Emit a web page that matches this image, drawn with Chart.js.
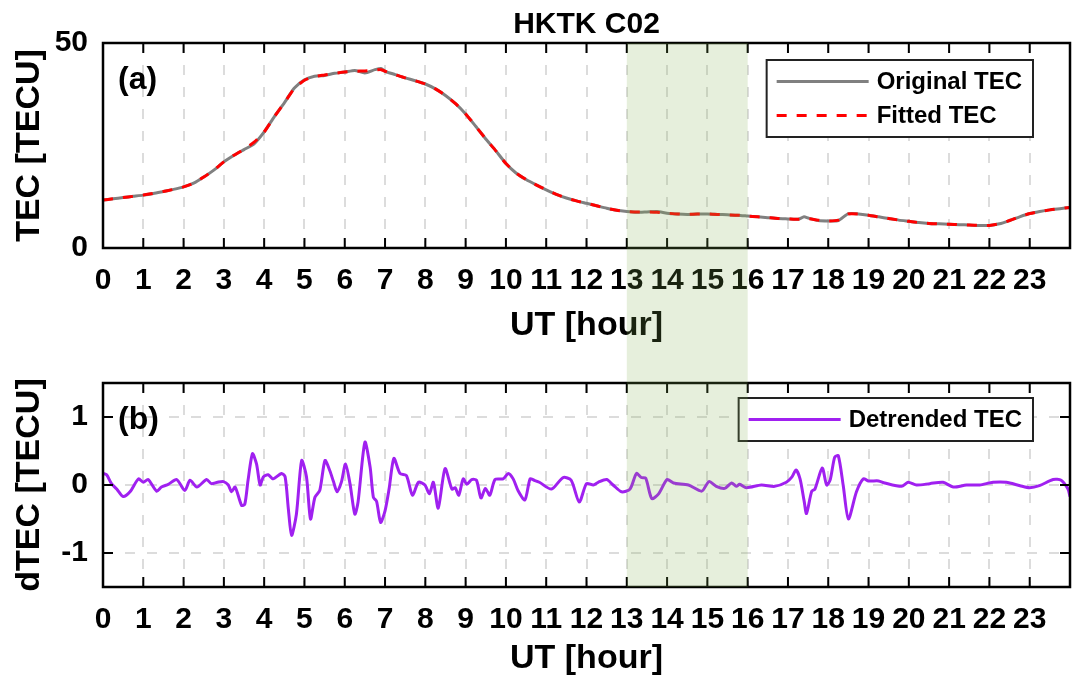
<!DOCTYPE html>
<html lang="en">
<head>
<meta charset="UTF-8">
<title>HKTK C02 TEC</title>
<script src="https://cdn.jsdelivr.net/npm/chart.js"></script>
<style>
  body { margin: 0; background: #fff; }
  canvas { display: block; }
</style>
</head>
<body>
<canvas id="tecChart" width="1078" height="348"></canvas>
<canvas id="dtecChart" width="1078" height="333"></canvas>
<script>
// ---- data ----
const hourTicks = [0,1,2,3,4,5,6,7,8,9,10,11,12,13,14,15,16,17,18,19,20,21,22,23,24];
const tecTicks = [0, 50];
const dtecTicks = [-1, 0, 1];
const bandHours = [13, 16];

const tecHours = [
  0,0.25,0.5,0.75, 1,1.25,1.5,1.75, 2,2.25,2.5,2.75, 3,3.25,3.5,3.75,
  4,4.25,4.5,4.75, 5,5.25,5.5,5.75, 6,6.25,6.5,6.75,6.9, 7,7.25,7.5,7.75,
  8,8.25,8.5,8.75, 9,9.25,9.5,9.75, 10,10.25,10.5,10.75, 11,11.25,11.5,11.75,
  12,12.25,12.5,12.75, 13,13.25,13.5,13.75, 14,14.25,14.5,14.75, 15,15.25,15.5,15.75,
  16,16.25,16.5,16.75, 17,17.25,17.4,17.5,17.75, 18,18.25,18.5,18.75, 19,19.25,19.5,19.75,
  20,20.25,20.5,20.75, 21,21.25,21.5,21.75, 22,22.25,22.5,22.75, 23,23.25,23.5,23.75, 24
];
const originalTec = [
  11.7,12.0,12.3,12.6, 12.9,13.3,13.8,14.3, 14.9,15.8,17.3,19.0, 21.0,22.6,24.0,25.4,
  28.3,32.0,35.4,39.0, 41.0,41.9,42.1,42.6, 42.9,43.3,42.7,43.5,43.8, 43.1,42.3,41.5,40.8,
  40.0,38.8,37.2,35.2, 32.7,29.7,26.6,23.7, 20.6,18.3,16.7,15.4, 14.2,13.1,12.2,11.5,
  10.9,10.3,9.7,9.2, 8.9,8.7,8.8,8.9, 8.5,8.3,8.2,8.3, 8.3,8.2,8.1,8.0,
  7.8,7.6,7.4,7.2, 7.1,7.0,7.6,7.3,6.7, 6.6,6.7,8.4,8.3, 8.0,7.6,7.2,6.8,
  6.5,6.2,6.0,5.9, 5.8,5.7,5.6,5.5, 5.5,5.9,6.7,7.6, 8.4,8.9,9.3,9.6, 9.9
];
const fittedTec = [
  11.7,12.0,12.3,12.6, 12.9,13.3,13.8,14.3, 14.9,15.8,17.3,19.0, 21.0,22.6,24.1,25.8,
  28.3,32.0,35.4,38.9, 40.9,41.8,42.2,42.6, 42.9,43.1,43.2,43.4,43.5, 43.1,42.3,41.5,40.8,
  40.0,38.8,37.2,35.2, 32.7,29.7,26.6,23.7, 20.6,18.3,16.7,15.4, 14.2,13.1,12.2,11.5,
  10.9,10.3,9.7,9.2, 8.9,8.8,8.8,8.7, 8.5,8.3,8.2,8.3, 8.3,8.2,8.1,8.0,
  7.8,7.6,7.4,7.2, 7.1,7.0,7.1,7.2,6.8, 6.6,6.8,8.3,8.3, 8.0,7.6,7.2,6.8,
  6.5,6.2,6.0,5.9, 5.8,5.7,5.6,5.5, 5.5,5.9,6.7,7.6, 8.4,8.9,9.3,9.6, 9.9
];

const dtecHours = [
  0,0.09,0.21,0.34,0.5,0.67,0.88,1,1.12,1.33,1.45,1.62,1.83,
  2.03,2.16,2.33,2.57,2.69,2.84,2.99,3.11,3.19,3.28,3.44,3.52,3.6,3.71,3.81,3.9,3.98,
  4.1,4.22,4.43,4.52,4.6,4.68,4.8,4.93,5.05,5.15,5.26,5.38,5.51,5.63,5.72,5.81,5.92,
  6.02,6.13,6.25,6.33,6.5,6.63,6.71,6.79,6.89,7,7.1,7.22,7.37,7.53,7.68,7.83,7.99,
  8.1,8.2,8.32,8.49,8.66,8.74,8.83,8.94,9.03,9.15,9.27,9.38,9.49,9.6,9.73,9.93,
  10.06,10.18,10.3,10.47,10.6,10.7,10.83,11.13,11.42,11.62,11.82,
  12,12.17,12.29,12.5,12.66,12.87,13.08,13.24,13.36,13.47,13.62,13.79,
  14,14.16,14.53,14.86,15.04,15.22,15.43,15.6,15.72,15.8,15.97,16.34,16.67,16.96,
  17.1,17.2,17.3,17.4,17.46,17.59,17.67,17.85,17.96,18.05,18.16,18.25,18.37,18.5,18.7,18.87,
  19,19.25,19.4,19.82,19.98,20.19,20.52,20.85,21.1,21.43,21.76,22.09,22.42,22.76,
  23,23.24,23.58,23.78,23.95,24
];
const detrendedTec = [
  0.17,0.15,0.02,-0.06,-0.17,-0.10,0.09,0.04,0.08,-0.09,-0.03,0.01,0.08,
  -0.08,0.07,-0.03,0.08,0.02,0.04,0.05,0.00,-0.10,-0.03,-0.30,-0.28,0.07,0.46,0.31,0.00,0.12,
  0.15,0.09,0.17,0.12,-0.35,-0.74,-0.43,0.36,0.12,-0.50,-0.18,-0.08,0.36,0.21,0.05,-0.10,0.05,
  0.31,0.02,-0.43,-0.25,0.63,0.26,-0.18,-0.24,-0.55,-0.38,-0.06,0.39,0.17,0.14,-0.15,0.04,0.00,
  -0.13,0.04,-0.34,0.24,-0.06,-0.04,-0.15,0.09,0.01,0.08,0.07,-0.19,-0.05,-0.15,0.08,0.09,
  0.17,0.09,-0.08,-0.22,0.09,0.07,0.04,-0.06,0.11,0.07,-0.25,
  0.02,0.00,0.04,0.08,0.00,-0.10,-0.06,0.17,0.11,0.10,-0.20,-0.13,
  0.08,0.03,0.00,-0.09,0.05,-0.02,-0.05,0.03,-0.02,0.01,-0.04,0.00,-0.02,0.04,
  0.12,0.22,0.09,-0.23,-0.42,-0.09,-0.06,0.25,0.00,0.08,0.41,0.43,0.00,-0.50,-0.10,0.09,
  0.06,0.06,0.03,-0.02,0.04,0.00,0.02,0.04,-0.03,0.00,0.00,0.04,0.04,-0.01,
  -0.04,-0.01,0.08,0.07,-0.06,-0.17
];

const toPoints = (xs, ys) => xs.map((x, i) => ({ x: x, y: ys[i] }));

const FONT = '"Liberation Sans", Arial, Helvetica, sans-serif';
Chart.defaults.font.family = FONT;
Chart.defaults.font.weight = 'bold';
Chart.defaults.color = '#000';

// frame around the axes with inward ticks
const framePlugin = {
  id: 'frame',
  afterDatasetsDraw(chart) {
    const { ctx, chartArea: a, scales } = chart;
    ctx.save();
    ctx.strokeStyle = '#000';
    ctx.lineWidth = 2;
    ctx.beginPath();
    scales.x.ticks.forEach(t => {
      const px = scales.x.getPixelForValue(t.value);
      ctx.moveTo(px, a.bottom); ctx.lineTo(px, a.bottom - 10);
      ctx.moveTo(px, a.top); ctx.lineTo(px, a.top + 10);
    });
    scales.y.ticks.forEach(t => {
      const py = scales.y.getPixelForValue(t.value);
      ctx.moveTo(a.left, py); ctx.lineTo(a.left + 10, py);
      ctx.moveTo(a.right, py); ctx.lineTo(a.right - 10, py);
    });
    ctx.stroke();
    ctx.lineWidth = 2.5;
    ctx.strokeRect(a.left, a.top, a.right - a.left, a.bottom - a.top);
    ctx.restore();
  }
};

// boxed legend in the upper right corner + panel letter
const boxLegendPlugin = {
  id: 'boxLegend',
  afterDatasetsDraw(chart, args, opts) {
    const { ctx, chartArea: a } = chart;
    const sets = chart.data.datasets;
    ctx.save();
    ctx.font = 'bold 24px ' + FONT;
    const textW = Math.max(...sets.map(d => ctx.measureText(d.label).width));
    const lineLen = 92, rowH = 34;
    const w = 10 + lineLen + 8 + textW + 11;
    const h = rowH * sets.length + 9;
    const left = a.right - 37 - w;
    const top = a.top + opts.offsetTop;
    ctx.fillStyle = '#fff';
    ctx.fillRect(left, top, w, h);
    ctx.lineWidth = 2;
    ctx.strokeStyle = '#222';
    ctx.strokeRect(left, top, w, h);
    sets.forEach((d, i) => {
      const y = top + 4.5 + rowH * (i + 0.5);
      ctx.beginPath();
      ctx.setLineDash(d.borderDash || []);
      ctx.strokeStyle = d.borderColor;
      ctx.lineWidth = d.borderWidth;
      ctx.moveTo(left + 10, y);
      ctx.lineTo(left + 10 + lineLen, y);
      ctx.stroke();
      ctx.setLineDash([]);
      ctx.fillStyle = '#000';
      ctx.textBaseline = 'middle';
      ctx.fillText(d.label, left + 10 + lineLen + 8, y + 1);
    });
    ctx.font = 'bold 32px ' + FONT;
    ctx.fillStyle = '#000';
    ctx.textBaseline = 'middle';
    ctx.fillText(opts.panel, a.left + 15, a.top + 37);
    ctx.restore();
  }
};

// translucent green window 13-16 UT, spanning both panels
const bandPlugin = {
  id: 'band',
  afterDraw(chart, args, opts) {
    const { ctx, chartArea: a, scales } = chart;
    const x1 = scales.x.getPixelForValue(bandHours[0]);
    const x2 = scales.x.getPixelForValue(bandHours[1]);
    const y1 = opts.toTop ? 0 : a.top;
    const y2 = opts.toBottom ? chart.height : a.bottom;
    ctx.save();
    ctx.fillStyle = 'rgba(130,175,80,0.2)';
    ctx.fillRect(x1, y1, x2 - x1, y2 - y1);
    ctx.restore();
  }
};

function xAxis(height) {
  return {
    type: 'linear', min: 0, max: 24,
    afterBuildTicks: s => { s.ticks = hourTicks.map(v => ({ value: v })); },
    afterFit: s => { s.height = height; s.paddingRight = 0; },
    ticks: { font: { size: 30, weight: 'bold' }, padding: 15, maxRotation: 0, autoSkip: false,
             callback: v => (v === 24 ? '' : v) },
    grid: { color: '#dcdcdc', lineWidth: 2, drawTicks: false },
    border: { display: false, dash: [10, 12] },
    title: { display: true, text: 'UT [hour]', font: { size: 34, weight: 'bold' }, padding: { top: 0, bottom: 2 } }
  };
}

function yAxis(min, max, tickVals, label, showGrid) {
  return {
    min: min, max: max,
    afterBuildTicks: s => { s.ticks = tickVals.map(v => ({ value: v })); },
    afterFit: s => { s.width = 103; },
    ticks: { font: { size: 30, weight: 'bold' }, padding: 15 },
    grid: { display: showGrid, color: '#dcdcdc', lineWidth: 2, drawTicks: false },
    border: { display: false, dash: [10, 12] },
    title: { display: true, text: label, font: { size: 34, weight: 'bold' }, padding: { top: 9, bottom: 0 } }
  };
}

new Chart(document.getElementById('tecChart'), {
  type: 'line',
  data: {
    datasets: [
      { label: 'Original TEC', data: toPoints(tecHours, originalTec), borderColor: '#808080',
        borderWidth: 3, pointRadius: 0, tension: 0.2, order: 2 },
      { label: 'Fitted TEC', data: toPoints(tecHours, fittedTec), borderColor: '#ff0000',
        borderWidth: 3, borderDash: [10, 10], pointRadius: 0, tension: 0.2, order: 1 }
    ]
  },
  options: {
    responsive: false, animation: false, devicePixelRatio: 1,
    layout: { padding: { left: 0, right: 8, top: 0, bottom: 0 } },
    scales: { x: xAxis(100), y: yAxis(0, 50, tecTicks, 'TEC [TECU]', false) },
    plugins: {
      legend: { display: false },
      tooltip: { enabled: false },
      title: { display: true, text: 'HKTK C02', fullSize: false, font: { size: 30, weight: 'bold' }, color: '#000',
               padding: { top: 7, bottom: 0 } },
      boxLegend: { offsetTop: 17, panel: '(a)' },
      band: { toTop: false, toBottom: true }
    }
  },
  plugins: [framePlugin, boxLegendPlugin, bandPlugin]
});

new Chart(document.getElementById('dtecChart'), {
  type: 'line',
  data: {
    datasets: [
      { label: 'Detrended TEC', data: toPoints(dtecHours, detrendedTec), borderColor: '#a020f0',
        borderWidth: 3, pointRadius: 0, tension: 0.25 }
    ]
  },
  options: {
    responsive: false, animation: false, devicePixelRatio: 1,
    layout: { padding: { left: 0, right: 8, top: 35, bottom: 0 } },
    scales: { x: xAxis(94), y: yAxis(-1.5, 1.5, dtecTicks, 'dTEC [TECU]', true) },
    plugins: {
      legend: { display: false },
      tooltip: { enabled: false },
      boxLegend: { offsetTop: 15, panel: '(b)' },
      band: { toTop: true, toBottom: false }
    }
  },
  plugins: [framePlugin, boxLegendPlugin, bandPlugin]
});
</script>
</body>
</html>
